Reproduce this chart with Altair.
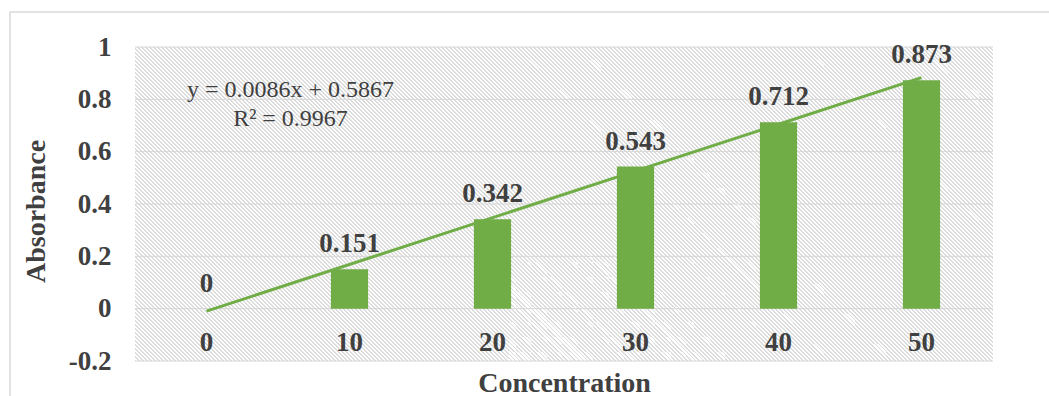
import altair as alt
import numpy as np
import pandas as pd

# Calibration data: absorbance readings per standard concentration
concentration = ["0", "10", "20", "30", "40", "50"]
concentration_values = [0, 10, 20, 30, 40, 50]
absorbance = [0.0, 0.151, 0.342, 0.543, 0.712, 0.873]
value_labels = ["0", "0.151", "0.342", "0.543", "0.712", "0.873"]
equation_lines = ["y = 0.0086x + 0.5867", "R² = 0.9967"]
y_ticks = [-0.2, 0, 0.2, 0.4, 0.6, 0.8, 1]

W, H = 858, 314
FONT = "Liberation Serif"
GREEN = "#70ad47"
TEXT = "#404040"
GRID = "#d6d6d6"

df = pd.DataFrame({"conc": concentration, "abs": absorbance, "label": value_labels})
grid_df = pd.DataFrame({"tick": y_ticks})

# Least-squares trendline through the readings
slope, intercept = np.polyfit(concentration_values, absorbance, 1)
trend = pd.DataFrame({
    "conc": [concentration[0], concentration[-1]],
    "abs": [intercept + slope * concentration_values[0],
            intercept + slope * concentration_values[-1]],
})
eq_df = pd.DataFrame({"text": ["\n".join(equation_lines)]})

# Fine 45-degree hatching for the plot background, built as a striped gradient
# running from the bottom-left corner to the top-right corner; one stripe
# every 4 px horizontally keeps it aligned to the pixel grid.
ratio = H / W
span = (1 + ratio) / (1 + ratio ** 2)
n_stripes = (W + H) // 4
stops = []
for i in range(n_stripes):
    a = i / n_stripes
    b = (i + 0.3) / n_stripes
    c = (i + 1) / n_stripes
    stops += [
        alt.GradientStop(offset=a, color="#dcdcdc"),
        alt.GradientStop(offset=b, color="#dcdcdc"),
        alt.GradientStop(offset=b, color="#ffffff"),
        alt.GradientStop(offset=c, color="#ffffff"),
    ]
hatch = alt.LinearGradient(
    gradient="linear", x1=0, y1=1, x2=span, y2=1 - ratio * span, stops=stops
)

x_scale = alt.Scale(domain=concentration, paddingInner=0.74, paddingOuter=0.37)
y_scale = alt.Scale(domain=[-0.2, 1], nice=False, zero=False)

x_enc = alt.X(
    "conc:N", scale=x_scale,
    axis=alt.Axis(
        title="Concentration", labelAngle=0, ticks=False, domain=False, zindex=1,
        labelPadding=-32, labelFont=FONT, labelFontSize=27, labelFontWeight="bold",
        labelColor=TEXT, titleFont=FONT, titleFontSize=28, titleFontWeight="bold",
        titleColor=TEXT, titleX=W / 2, titleY=30, titleBaseline="alphabetic",
    ),
)
y_enc = alt.Y(
    "abs:Q", scale=y_scale,
    axis=alt.Axis(
        values=y_ticks, grid=False, domain=False, ticks=False, labelPadding=24,
        labelExpr="datum.value == 0 ? '0' : toString(round(datum.value * 10) / 10)",
        labelFont=FONT, labelFontSize=27, labelFontWeight="bold", labelColor=TEXT,
        title="Absorbance", titleFont=FONT, titleFontSize=28, titleFontWeight="bold",
        titleColor=TEXT, titleAngle=-90, titleX=-91, titleY=164,
        titleBaseline="alphabetic",
    ),
)

# Light outer frame around the whole figure
frame = alt.Chart(pd.DataFrame({"k": [0]})).mark_rect(
    fill="transparent", stroke="#d9d9d9", strokeWidth=1.5
).encode(
    x=alt.value(-125), x2=alt.value(W + 80), y=alt.value(-35), y2=alt.value(H + 80)
)

background = alt.Chart(pd.DataFrame({"k": [0]})).mark_rect(color=hatch).encode(
    x=alt.value(0), x2=alt.value(W),
    y=alt.Y(datum=-0.2, scale=y_scale), y2=alt.datum(1),
)

grid = alt.Chart(grid_df).mark_rule(color=GRID, strokeWidth=1).encode(
    y=alt.Y("tick:Q", scale=y_scale)
)

bars = alt.Chart(df).mark_bar(color=GREEN).encode(x=x_enc, y=y_enc)

line = alt.Chart(trend).mark_line(color=GREEN, strokeWidth=3).encode(
    x=alt.X("conc:N", scale=x_scale), y=alt.Y("abs:Q", scale=y_scale)
)

labels = alt.Chart(df).mark_text(
    dy=-17, baseline="alphabetic", font=FONT, fontSize=27, fontWeight="bold", color=TEXT
).encode(x=alt.X("conc:N", scale=x_scale), y=alt.Y("abs:Q", scale=y_scale), text="label:N")

equation = alt.Chart(eq_df).mark_text(
    dx=84, baseline="alphabetic", align="center", font=FONT, fontSize=24,
    color=TEXT, lineBreak="\n", lineHeight=29,
).encode(x=alt.datum("0"), y=alt.datum(0.81), text="text:N")

chart = (
    alt.layer(frame, background, grid, bars, line, labels, equation)
    .properties(
        width=W, height=H,
        autosize=alt.AutoSizeParams(type="none"),
        padding={"left": 135, "top": 47, "right": 56, "bottom": 35},
        background="white",
    )
    .configure_view(stroke="transparent")
)

chart.save("out.html", embed_options={"renderer": "svg", "actions": False})
